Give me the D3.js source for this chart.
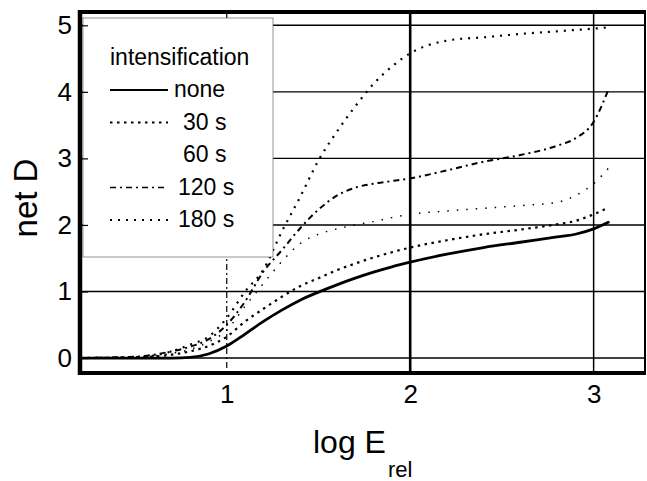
<!DOCTYPE html>
<html>
<head>
<meta charset="utf-8">
<script src="https://cdn.jsdelivr.net/npm/d3@7"></script>
<style>
  html, body { margin: 0; padding: 0; background: #fff; }
  svg { display: block; }
  text { font-family: "Liberation Sans", Arial, Helvetica, sans-serif; fill: #000; }
</style>
</head>
<body>
<svg id="chart" width="647" height="481"></svg>
<script>
// ---- data ----
const logE = [0.2, 0.5, 0.7, 0.8, 0.9, 1.0, 1.1, 1.2, 1.3, 1.4, 1.5, 1.6, 1.7, 1.8, 1.9, 2.0, 2.2, 2.4, 2.6, 2.8, 2.9, 3.0, 3.08];
const seriesNames = ["none", "30 s", "60 s", "120 s", "180 s"];
const netNone = [0, 0, 0, 0.01, 0.06, 0.18, 0.36, 0.55, 0.72, 0.87, 0.99, 1.1, 1.2, 1.29, 1.37, 1.44, 1.56, 1.66, 1.74, 1.82, 1.86, 1.94, 2.04];
const net30 = [0, 0.01, 0.05, 0.1, 0.18, 0.32, 0.55, 0.74, 0.92, 1.08, 1.2, 1.32, 1.42, 1.51, 1.59, 1.66, 1.77, 1.86, 1.93, 2.01, 2.06, 2.16, 2.26];
const net60 = [0, 0.01, 0.07, 0.13, 0.24, 0.42, 0.78, 1.12, 1.45, 1.72, 1.86, 1.94, 2.0, 2.05, 2.11, 2.16, 2.21, 2.25, 2.29, 2.34, 2.44, 2.62, 2.85];
const net120 = [0, 0.02, 0.1, 0.17, 0.28, 0.5, 0.85, 1.3, 1.62, 1.95, 2.23, 2.44, 2.56, 2.62, 2.66, 2.70, 2.82, 2.95, 3.05, 3.19, 3.3, 3.55, 4.03];
const net180 = [0, 0.01, 0.1, 0.2, 0.32, 0.6, 1.0, 1.33, 1.9, 2.42, 2.97, 3.4, 3.78, 4.12, 4.38, 4.58, 4.77, 4.82, 4.87, 4.91, 4.93, 4.95, 4.97];
const xTicks = [1, 2, 3];
const yTicks = [0, 1, 2, 3, 4, 5];
const legendTitle = "intensification";

// ---- styles per series ----
const styles = [
  { width: 2.8, dash: null, legend: true },
  { width: 2.2, dash: "2.5,4.5", legend: true },
  { width: 1.5, dash: "1.5,8", legend: false },
  { width: 2.0, dash: "6,4,2,4", legend: true },
  { width: 2.2, dash: "2,6", legend: true }
];
const seriesValues = [netNone, net30, net60, net120, net180];

const svg = d3.select("#chart");
const L = 80, R = 645, T = 12, B = 373;
const x = d3.scaleLinear().domain([0.2, 3.28]).range([L, R]);
const y = d3.scaleLinear().domain([-0.225, 5.2]).range([B, T]);

// gridlines
const grid = svg.append("g");
grid.selectAll("line.h").data(yTicks).join("line")
  .attr("x1", L).attr("x2", R)
  .attr("y1", d => y(d)).attr("y2", d => y(d))
  .attr("stroke", "#000").attr("stroke-width", 1.4);
grid.selectAll("line.v").data(xTicks).join("line")
  .attr("x1", d => x(d)).attr("x2", d => x(d))
  .attr("y1", T).attr("y2", B)
  .attr("stroke", "#000")
  .attr("stroke-width", d => d === 2 ? 2.6 : (d === 3 ? 1.5 : 1.2))
  .attr("stroke-dasharray", d => d === 1 ? "6,3,2,3" : null);

// curves
const line = d3.line().x(d => x(d[0])).y(d => y(d[1])).curve(d3.curveMonotoneX);
seriesValues.forEach((vals, i) => {
  const pts = logE.map((e, j) => [e, vals[j]]);
  svg.append("path").datum(pts)
    .attr("d", line)
    .attr("fill", "none")
    .attr("stroke", "#000")
    .attr("stroke-width", styles[i].width)
    .attr("stroke-dasharray", styles[i].dash)
    .attr("stroke-linecap", styles[i].dash ? "butt" : "round");
});

// legend box
const lg = svg.append("g");
lg.append("rect").attr("x", 83).attr("y", 18).attr("width", 190).attr("height", 239)
  .attr("fill", "#fff").attr("stroke", "#666").attr("stroke-width", 0.7);
lg.append("text").attr("x", 110).attr("y", 65).attr("font-size", 23).text(legendTitle);
seriesNames.forEach((name, i) => {
  const yy = 97 + i * 32.5;
  if (styles[i].legend) {
    lg.append("line").attr("x1", 110).attr("x2", 168)
      .attr("y1", yy - 7).attr("y2", yy - 7)
      .attr("stroke", "#000")
      .attr("stroke-width", styles[i].width * 0.8)
      .attr("stroke-dasharray", styles[i].dash);
  }
  lg.append("text").attr("x", i === 0 ? 174 : (name.length > 4 ? 178 : 183))
    .attr("y", yy).attr("font-size", 23).text(name);
});

// axes (labels + inward ticks)
const yAxis = d3.axisLeft(y).tickValues(yTicks).tickFormat(d3.format("d"))
  .tickSizeInner(-8).tickSizeOuter(0).tickPadding(8);
const gy = svg.append("g").attr("transform", `translate(${L},0)`).call(yAxis);
gy.select(".domain").remove();
gy.selectAll("text").attr("font-size", 26).attr("font-family", '"Liberation Sans", Arial, sans-serif');
gy.selectAll("line").attr("stroke-width", 1.2);

const xAxis = d3.axisBottom(x).tickValues(xTicks).tickFormat(d3.format("d"))
  .tickSizeInner(0).tickSizeOuter(0).tickPadding(12);
const gx = svg.append("g").attr("transform", `translate(0,${B})`).call(xAxis);
gx.select(".domain").remove();
gx.selectAll("text").attr("font-size", 26).attr("font-family", '"Liberation Sans", Arial, sans-serif');

// frame
const fr = svg.append("g").attr("stroke", "#000");
fr.append("line").attr("x1", L).attr("x2", L).attr("y1", T - 2).attr("y2", B + 2).attr("stroke-width", 4.5);
fr.append("line").attr("x1", L - 2).attr("x2", R + 1).attr("y1", B).attr("y2", B).attr("stroke-width", 4);
fr.append("line").attr("x1", L - 2).attr("x2", R + 1).attr("y1", T).attr("y2", T).attr("stroke-width", 4);
fr.append("line").attr("x1", R).attr("x2", R).attr("y1", T).attr("y2", B).attr("stroke-width", 2);

// axis titles
svg.append("text")
  .attr("transform", `translate(37,198) rotate(-90)`)
  .attr("text-anchor", "middle").attr("font-size", 33).text("net D");
const xt = svg.append("text").attr("x", 313).attr("y", 453).attr("font-size", 32);
xt.append("tspan").text("log E");
xt.append("tspan").attr("font-size", 22).attr("dy", 24).attr("dx", 2).text("rel");
</script>
</body>
</html>
